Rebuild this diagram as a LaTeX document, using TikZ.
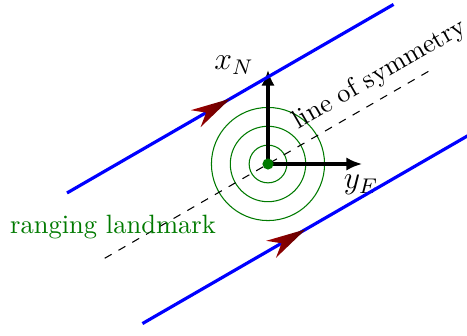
\documentclass[tikz,border=0pt]{standalone}
\usetikzlibrary{arrows.meta,calc}
\definecolor{dgreen}{rgb}{0,0.48,0}
\tikzset{
  track/.style={blue, line width=1.2pt},
  axisarrow/.style={line width=1.2pt, -{Latex[length=6pt,width=5pt]}},
  ring/.style={dgreen, line width=0.4pt},
  sym/.style={dashed, line width=0.4pt},
  redhead/.style={left color=red!65!black, right color=red!35!black, draw=none},
}
\newcommand{\redtip}{(0,0) -- (-0.53,0.13) -- (-0.37,0) -- (-0.53,-0.13) -- cycle}
\begin{document}
\begin{tikzpicture}
\useasboundingbox (-3.554,-2.268) rectangle (2.639,2.175);
\coordinate (o) at (0,0);
% circles
\foreach \r in {0.25,0.5,0.75} \draw[ring] (o) circle (\r);
% line of symmetry
\coordinate (s1) at (210:2.5);
\coordinate (s2) at (30:2.5);
\draw[sym] (s1) -- node[pos=0.875, above, sloped] (symlabel) {line of symmetry} (s2);
% axes
\coordinate (xn) at (0,1.25);
\coordinate (ye) at (1.25,0);
\draw[axisarrow] (o) -- (xn);
\draw[axisarrow] (o) -- (ye);
\node[font=\large] (xlabel) at (-0.45,1.31) {$x_N$};
\node[font=\large] (ylabel) at (1.233,-0.28) {$y_E$};
\fill[dgreen] (o) circle (2.1pt);
\node[text=dgreen] (landmark) at (-2.056,-0.836) {ranging landmark};
% tracks
\coordinate (m1) at (120:1);
\coordinate (m2) at (-60:1);
\coordinate (a1) at ($(m1)+(210:2.5)$);
\coordinate (b1) at ($(m1)+(30:2.5)$);
\coordinate (a2) at ($(m2)+(210:2.5)$);
\coordinate (b2) at ($(m2)+(30:2.5)$);
\draw[track] (a1) -- (b1);
\draw[track] (a2) -- (b2);
\begin{scope}[shift={(m1)}, rotate=30]
  \shade[redhead] \redtip;
\end{scope}
\begin{scope}[shift={(m2)}, rotate=30]
  \shade[redhead] \redtip;
\end{scope}
\end{tikzpicture}
\end{document}
